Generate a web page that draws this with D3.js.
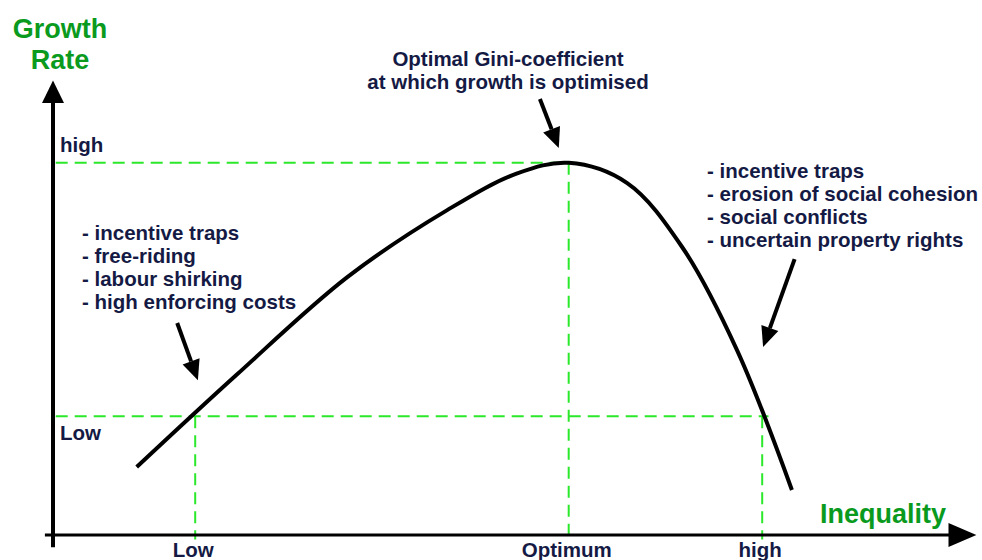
<!DOCTYPE html>
<html>
<head>
<meta charset="utf-8">
<script src="https://cdn.jsdelivr.net/npm/d3@7"></script>
<style>
  body { margin: 0; background: #fff; }
  svg text { font-family: "Liberation Sans", Arial, sans-serif; font-weight: bold; }
</style>
</head>
<body>
<div id="chart"></div>
<script>
const INK = '#141a44'
const GREEN = '#0a9a1e'
const DASH = '#2be82b'

// growth curve (inequality, growth rate) in 0-100 units
const curveX = [9.3, 20.4, 32.7, 43.8, 51.5, 57.3, 63.8, 69.9, 76, 82.1]
const curveY = [15.1, 35.6, 57.3, 72.2, 80.3, 82.7, 78.2, 64, 41.1, 10]

// reference levels
const xLevelNames = ['Low', 'Optimum', 'high']
const xLevels = [15.8, 57.3, 78.8]
const yLevelNames = ['high', 'Low']
const yLevels = [82.7, 26.4]

const leftNotes = ['- incentive traps', '- free-riding', '- labour shirking', '- high enforcing costs']
const rightNotes = ['- incentive traps', '- erosion of social cohesion', '- social conflicts', '- uncertain property rights']
const topNote = ['Optimal Gini-coefficient', 'at which growth is optimised']

const width = 982, height = 560

const x = d3.scaleLinear().domain([0, 100]).range([53, 953])
const y = d3.scaleLinear().domain([0, 100]).range([535, 85])

const svg = d3.select('#chart').append('svg')
    .attr('width', width)
    .attr('height', height)

// dashed guides
const g = svg.append('g')
    .attr('stroke', DASH)
    .attr('stroke-width', 2)
    .attr('stroke-dasharray', '12,7')
    .attr('fill', 'none')

g.append('line').attr('x1', x(0.3)).attr('x2', x(xLevels[1])).attr('y1', y(yLevels[0])).attr('y2', y(yLevels[0]))
g.append('line').attr('x1', x(0.3)).attr('x2', x(79.5)).attr('y1', y(yLevels[1])).attr('y2', y(yLevels[1]))
g.append('line').attr('x1', x(xLevels[0])).attr('x2', x(xLevels[0])).attr('y1', y(yLevels[1])).attr('y2', y(-1))
g.append('line').attr('x1', x(xLevels[1])).attr('x2', x(xLevels[1])).attr('y1', y(yLevels[0])).attr('y2', y(-1))
g.append('line').attr('x1', x(xLevels[2])).attr('x2', x(xLevels[2])).attr('y1', y(yLevels[1])).attr('y2', y(-1))

// axes
svg.append('line')
    .attr('x1', x(0)).attr('x2', x(0))
    .attr('y1', y(-2.7)).attr('y2', y(96))
    .attr('stroke', '#000').attr('stroke-width', 4)
svg.append('path')
    .attr('d', `M${x(0) - 11},${y(96)} L${x(0)},${y(101)} L${x(0) + 11},${y(96)} Z`)
    .attr('fill', '#000')

svg.append('line')
    .attr('x1', x(-0.9)).attr('x2', x(100))
    .attr('y1', y(0)).attr('y2', y(0))
    .attr('stroke', '#000').attr('stroke-width', 3)
svg.append('path')
    .attr('d', `M${x(99.5)},${y(0) - 12} L${x(102.6)},${y(0)} L${x(99.5)},${y(0) + 12} Z`)
    .attr('fill', '#000')

// curve
const pts = curveX.map((d, i) => [d, curveY[i]])
svg.append('path')
    .datum(pts)
    .attr('d', d3.line().x(d => x(d[0])).y(d => y(d[1])).curve(d3.curveCatmullRom.alpha(0.5)))
    .attr('fill', 'none')
    .attr('stroke', '#000')
    .attr('stroke-width', 4)

// axis titles
svg.append('text').attr('x', 60).attr('y', 38).attr('text-anchor', 'middle')
    .attr('fill', GREEN).attr('font-size', 27).text('Growth')
svg.append('text').attr('x', 60).attr('y', 69).attr('text-anchor', 'middle')
    .attr('fill', GREEN).attr('font-size', 27).text('Rate')
svg.append('text').attr('x', 946).attr('y', 523).attr('text-anchor', 'end')
    .attr('fill', GREEN).attr('font-size', 27).text('Inequality')

// level labels
svg.selectAll('.xl').data(xLevelNames).join('text')
    .attr('x', (d, i) => x(xLevels[i]) - 2)
    .attr('y', 557)
    .attr('text-anchor', 'middle')
    .attr('fill', INK).attr('font-size', 20.5)
    .text(d => d)

svg.selectAll('.yl').data(yLevelNames).join('text')
    .attr('x', 60)
    .attr('y', (d, i) => y(yLevels[i]) + (i === 0 ? -11 : 24))
    .attr('fill', INK).attr('font-size', 20.5)
    .text(d => d)

// notes
const note = (lines, px, py, anchor) => {
    svg.append('text')
        .attr('x', px).attr('y', py)
        .attr('text-anchor', anchor)
        .attr('fill', INK).attr('font-size', 20.5)
        .selectAll('tspan').data(lines).join('tspan')
        .attr('x', px)
        .attr('dy', (d, i) => i === 0 ? 0 : 23)
        .text(d => d)
}
note(leftNotes, 82, 240, 'start')
note(rightNotes, 707, 178, 'start')
note(topNote, 508, 66, 'middle')

// pointer arrows [x1, y1, x2, y2] in data units
const pointers = [
    [54.1, 96.9, 56.2, 86],
    [13.8, 47.1, 16.1, 34.4],
    [82.4, 61.3, 78.9, 41.8]
]
const arrow = (a) => {
    const x1 = x(a[0]), y1 = y(a[1]), x2 = x(a[2]), y2 = y(a[3])
    const ang = Math.atan2(y2 - y1, x2 - x1)
    const len = 20, half = 9
    const bx = x2 - len * Math.cos(ang), by = y2 - len * Math.sin(ang)
    svg.append('line')
        .attr('x1', x1).attr('y1', y1).attr('x2', bx).attr('y2', by)
        .attr('stroke', '#000').attr('stroke-width', 4)
    svg.append('path')
        .attr('d', `M${x2},${y2} L${bx + half * Math.sin(ang)},${by - half * Math.cos(ang)} L${bx - half * Math.sin(ang)},${by + half * Math.cos(ang)} Z`)
        .attr('fill', '#000')
}
pointers.forEach(arrow)
</script>
</body>
</html>
